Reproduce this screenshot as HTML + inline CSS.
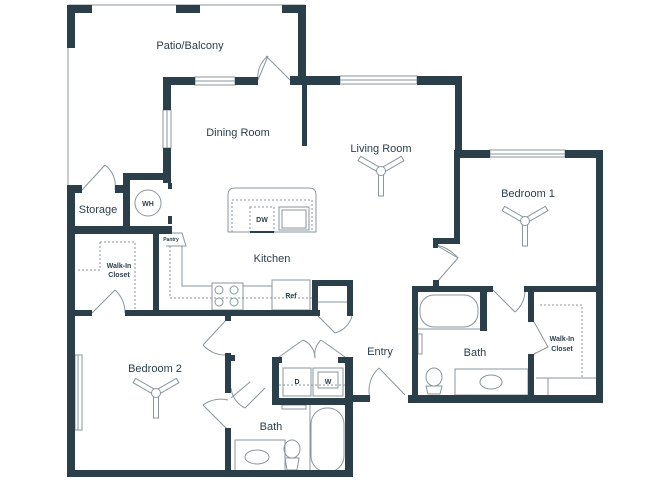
<!DOCTYPE html>
<html><head><meta charset="utf-8"><style>
html,body{margin:0;padding:0;background:#fff;width:670px;height:480px;overflow:hidden}
svg{display:block}
text{font-family:"Liberation Sans",sans-serif;fill:#2b3f4a}
</style></head><body>
<svg width="670" height="480" viewBox="0 0 670 480" xmlns="http://www.w3.org/2000/svg">
<g fill="none" stroke="#8a969c" stroke-width="1">
<line x1="68" y1="5" x2="305" y2="5"/>
<line x1="68" y1="5" x2="68" y2="186"/>
<rect x="195" y="77" width="40" height="8"/><line x1="195" y1="81" x2="235" y2="81"/>
<rect x="340" y="76" width="77" height="8"/><line x1="340" y1="80" x2="417" y2="80"/>
<rect x="163" y="110" width="8" height="38"/><line x1="167" y1="110" x2="167" y2="148"/>
<rect x="490" y="150" width="75" height="7"/><line x1="490" y1="154" x2="565" y2="154"/>
<rect x="75" y="355" width="7" height="75"/><line x1="78" y1="355" x2="78" y2="430"/>
<path d="M258 80 L268 56 M258 80 A26 26 0 0 1 268 56"/>
<path d="M290 80 L266 56"/>
<path d="M82 190 L105 165 M115 190 A26 26 0 0 0 105 165"/>
<path d="M92 313 L115 290 M125 313 A30 30 0 0 0 115 290"/>
<path d="M228 318 L203 345 M228 355 A30 30 0 0 1 203 345"/>
<path d="M231 398 L250 382 M265 388 L245 408 M231 388 A25 25 0 0 0 245 408"/>
<path d="M228 430 L203 405 M228 400 A30 30 0 0 0 203 405"/>
<path d="M279 357 L303 340 M303 340 A20 20 0 0 1 315 358"/>
<path d="M345 357 L321 340 M321 340 A20 20 0 0 0 315 358"/>
<path d="M318 316 L335 333 M352 316 A24 24 0 0 1 335 333"/>
<path d="M405 395 L379 368 M370 398 A30 30 0 0 1 379 368"/>
<path d="M436 245 L458 258 L436 283 M436 245 A38 38 0 0 1 458 258"/>
<path d="M493 290 L515 312 M525 290 A28 28 0 0 1 515 312"/>
<path d="M534 322 L548 347 L534 354"/>
<path d="M100 242 L135 242 L135 313 M78 270 L100 270 L100 242" stroke-dasharray="2,2"/>
<path d="M540 305 L582 305 L582 378 L540 378" stroke-dasharray="2,2"/>
<line x1="548" y1="378" x2="548" y2="395"/><line x1="536" y1="378" x2="596" y2="378"/>
<path d="M228 195 Q228 188 235 188 L309 188 Q316 188 316 195 L316 232 L228 232 Z"/>
<rect x="232" y="200" width="80" height="32" stroke-dasharray="2,2"/>
<rect x="250" y="207" width="24" height="25" stroke-dasharray="2,2"/>
<rect x="279" y="207" width="30" height="23"/>
<rect x="282" y="210" width="24" height="18"/>
<line x1="250" y1="232" x2="274" y2="232" stroke="#2b3f4a" stroke-width="2"/>
<path d="M159 233 L182 233 L186 246 L166 246"/>
<path d="M182 246 L182 286 L212 286"/>
<path d="M170 246 L170 298 L315 298" stroke-dasharray="2,2"/>
<rect x="212" y="283" width="31" height="27"/>
<circle cx="219" cy="290" r="4"/><circle cx="234" cy="290" r="4"/><circle cx="219" cy="302" r="4"/><circle cx="234" cy="302" r="4"/>
<line x1="243" y1="286" x2="272" y2="286"/>
<rect x="272" y="280" width="38" height="30"/>
<line x1="318" y1="302" x2="350" y2="302"/>
<circle cx="148" cy="203" r="13"/>
<rect x="283" y="368" width="28" height="28"/><rect x="313" y="368" width="30" height="28"/><rect x="318" y="372" width="20" height="16"/>
<line x1="279" y1="385" x2="345" y2="385" stroke-dasharray="2,2"/>
<rect x="282" y="405" width="24" height="4"/>
<rect x="235" y="440" width="50" height="32"/>
<ellipse cx="257" cy="457" rx="12" ry="7"/>
<ellipse cx="292" cy="449" rx="8" ry="9"/><path d="M285 458 L299 458 L297 470 L287 470 Z"/>
<rect x="311" y="408" width="33" height="64" rx="16"/>
<line x1="310" y1="405" x2="310" y2="472"/>
<rect x="420" y="295" width="58" height="32" rx="14"/>
<line x1="418" y1="329" x2="480" y2="329"/>
<rect x="418" y="334" width="4" height="20"/>
<ellipse cx="434" cy="377" rx="8" ry="9"/><path d="M426 386 L442 386 L440 394 L428 394 Z"/>
<rect x="455" y="369" width="73" height="26"/>
<ellipse cx="491" cy="382" rx="11" ry="7"/>
</g>
<g fill="#fff" stroke="#8a969c" stroke-width="1">
<g transform="translate(381,171) rotate(180)"><rect x="-2.5" y="-25" width="5" height="21"/><rect x="-2.5" y="-25" width="5" height="21" transform="rotate(120)"/><rect x="-2.5" y="-25" width="5" height="21" transform="rotate(240)"/><circle r="4.5"/></g>
<g transform="translate(525,221) rotate(180)"><rect x="-2.5" y="-25" width="5" height="21"/><rect x="-2.5" y="-25" width="5" height="21" transform="rotate(120)"/><rect x="-2.5" y="-25" width="5" height="21" transform="rotate(240)"/><circle r="4.5"/></g>
<g transform="translate(156,393) rotate(180)"><rect x="-2.5" y="-25" width="5" height="21"/><rect x="-2.5" y="-25" width="5" height="21" transform="rotate(120)"/><rect x="-2.5" y="-25" width="5" height="21" transform="rotate(240)"/><circle r="4.5"/></g>
</g>
<g fill="#2b3f4a">
<rect x="67" y="5" width="25" height="8"/><rect x="67" y="5" width="8" height="43"/>
<rect x="176" y="5" width="24" height="8"/>
<rect x="282" y="5" width="23" height="8"/><rect x="298" y="5" width="8" height="80"/>
<rect x="163" y="77" width="32" height="8"/><rect x="235" y="77" width="23" height="8"/>
<rect x="290" y="76" width="50" height="9"/><rect x="417" y="76" width="45" height="9"/>
<rect x="302" y="76" width="5" height="70"/>
<rect x="163" y="77" width="8" height="33"/><rect x="163" y="148" width="8" height="35"/>
<rect x="168" y="183" width="4" height="6"/><rect x="168" y="216" width="4" height="8"/>
<rect x="455" y="76" width="7" height="82"/>
<rect x="455" y="150" width="35" height="8"/><rect x="565" y="150" width="38" height="8"/>
<rect x="596" y="150" width="7" height="253"/>
<rect x="454" y="150" width="6" height="92"/><rect x="433" y="238" width="27" height="6"/><rect x="433" y="238" width="5" height="10"/><rect x="433" y="280" width="6" height="9"/>
<rect x="67" y="185" width="15" height="8"/><rect x="115" y="185" width="10" height="8"/>
<rect x="123" y="173" width="48" height="7"/><rect x="123" y="173" width="7" height="60"/>
<rect x="67" y="185" width="8" height="292"/>
<rect x="67" y="226" width="105" height="8"/>
<rect x="153" y="226" width="6" height="90"/>
<rect x="67" y="310" width="25" height="6"/><rect x="125" y="310" width="195" height="6"/>
<rect x="312" y="280" width="41" height="6"/><rect x="312" y="280" width="6" height="36"/><rect x="347" y="280" width="6" height="36"/>
<rect x="225" y="316" width="6" height="5"/>
<rect x="225" y="353" width="6" height="40"/><rect x="225" y="355" width="10" height="6"/>
<rect x="225" y="428" width="6" height="49"/>
<rect x="67" y="470" width="286" height="7"/>
<rect x="272" y="357" width="7" height="48"/><rect x="272" y="357" width="10" height="6"/>
<rect x="272" y="398" width="81" height="7"/>
<rect x="345" y="357" width="8" height="120"/><rect x="338" y="357" width="10" height="6"/>
<rect x="345" y="395" width="25" height="7"/>
<rect x="408" y="395" width="195" height="8"/>
<rect x="412" y="286" width="6" height="112"/><rect x="412" y="286" width="81" height="6"/>
<rect x="480" y="286" width="7" height="45"/>
<rect x="524" y="286" width="79" height="6"/>
<rect x="528" y="286" width="6" height="36"/><rect x="528" y="354" width="6" height="44"/>
</g>
<g font-size="11" text-anchor="middle">
<text x="190" y="49">Patio/Balcony</text>
<text x="238" y="136">Dining Room</text>
<text x="381" y="152">Living Room</text>
<text x="528" y="197">Bedroom 1</text>
<text x="272" y="262">Kitchen</text>
<text x="98" y="213">Storage</text>
<text x="155" y="372">Bedroom 2</text>
<text x="380" y="355">Entry</text>
<text x="475" y="356">Bath</text>
<text x="271" y="430">Bath</text>
</g>
<g font-size="7" text-anchor="middle" font-weight="bold">
<text x="148" y="206">WH</text>
<text x="262" y="222">DW</text>
<text x="291" y="298">Ref</text>
<text x="297" y="384">D</text>
<text x="328" y="384">W</text>
<text x="119" y="268">Walk-In</text><text x="119" y="277">Closet</text>
<text x="562" y="341">Walk-In</text><text x="562" y="351">Closet</text>
<text x="171" y="241" font-size="5">Pantry</text>
</g>
</svg>
</body></html>
